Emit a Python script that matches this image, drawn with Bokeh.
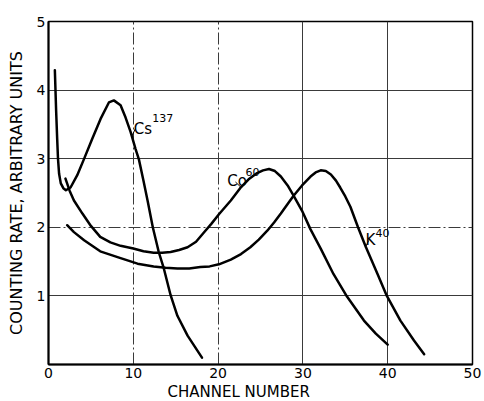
from bokeh.plotting import figure
from bokeh.models import FixedTicker, Grid, Range1d, Title, ColumnDataSource
from bokeh.embed import file_html
from bokeh.resources import INLINE
from bokeh.core.properties import value

# ---- data ----
cs_x = [0.75, 0.9, 1.02, 1.12, 1.25, 1.45, 1.75, 2.05, 2.6, 3.39, 4.17, 5.16, 6.14, 7.12, 7.71,
        8.5, 9.09, 9.68, 10.27, 10.66, 11.2, 11.7, 12.3, 13.0, 13.6, 14.4, 15.2, 16.4, 18.1]
cs_y = [4.29, 3.7, 3.3, 3.0, 2.78, 2.64, 2.57, 2.54, 2.58, 2.76, 2.99, 3.29, 3.58, 3.82, 3.85,
        3.78, 3.60, 3.39, 3.14, 2.99, 2.68, 2.38, 2.0, 1.64, 1.40, 1.01, 0.71, 0.42, 0.10]

co_x = [2.0, 2.5, 3.0, 4.0, 5.0, 6.1, 7.3, 8.5, 10.0, 11.2, 12.4, 13.4, 14.4, 15.4, 16.4, 17.4,
        18.3, 19.2, 20.1, 21.5, 22.6, 23.6, 24.6, 25.3, 26.0, 26.7, 27.4, 28.2, 28.9, 29.9, 30.9,
        32.1, 33.6, 35.2, 37.2, 38.6, 40.0]
co_y = [2.71, 2.53, 2.39, 2.2, 2.02, 1.86, 1.78, 1.73, 1.69, 1.65, 1.63, 1.63, 1.64, 1.67, 1.71, 1.79,
        1.92, 2.05, 2.19, 2.39, 2.57, 2.70, 2.79, 2.83, 2.85, 2.82, 2.74, 2.61, 2.46, 2.24, 1.97,
        1.69, 1.32, 0.99, 0.64, 0.45, 0.29]

k_x = [2.2, 3.0, 4.2, 6.1, 8.5, 10.5, 12.4, 13.8, 15.2, 16.6, 17.9, 19.0, 20.1, 21.5, 22.7, 23.8,
       24.8, 25.8, 26.6, 27.4, 28.2, 28.9, 29.9, 30.9, 31.5, 32.1, 32.7, 33.3, 33.9, 34.4, 35.0,
       35.6, 36.5, 37.4, 38.8, 39.9, 41.5, 43.1, 44.3]
k_y = [2.03, 1.93, 1.81, 1.65, 1.55, 1.47, 1.43, 1.41, 1.40, 1.40, 1.42, 1.43, 1.46, 1.53, 1.61, 1.71,
       1.82, 1.95, 2.07, 2.2, 2.34, 2.46, 2.61, 2.74, 2.80, 2.83, 2.82, 2.77, 2.68, 2.58, 2.45,
       2.30, 2.0, 1.72, 1.32, 1.0, 0.64, 0.35, 0.15]

x_ticks = [0, 10, 20, 30, 40, 50]
y_ticks = [1, 2, 3, 4, 5]

# isotope labels (element + mass number superscript) and their leader ticks
label_text = ["Cs", "Co", "K"]
label_x = [10.06, 21.07, 37.38]
label_y = [3.44, 2.68, 1.82]
sup_text = ["137", "60", "40"]
sup_x = [12.23, 23.23, 38.56]
sup_y = [3.60, 2.80, 1.92]
lead_x0 = [10.26, 22.05, 37.77]
lead_y0 = [3.44, 2.66, 1.81]
lead_x1 = [9.87, 22.64, 37.38]
lead_y1 = [3.34, 2.59, 1.71]

x_title = "CHANNEL NUMBER"
y_title = "COUNTING RATE, ARBITRARY UNITS"

FONT = "DejaVu Sans"

p = figure(width=484, height=401, x_range=Range1d(0, 50), y_range=Range1d(0, 5),
           output_backend="svg", toolbar_location=None,
           min_border_left=48, min_border_right=12, min_border_top=21, min_border_bottom=37)
p.background_fill_color = "white"
p.border_fill_color = "white"
p.outline_line_color = "black"
p.outline_line_width = 1.5

p.xgrid.visible = False
p.ygrid.visible = False

p.xaxis.ticker = FixedTicker(ticks=x_ticks)
p.yaxis.ticker = FixedTicker(ticks=y_ticks)
for ax in (p.xaxis, p.yaxis):
    ax.axis_line_color = "black"
    ax.axis_line_width = 2
    ax.major_tick_in = 0
    ax.major_tick_out = 0
    ax.minor_tick_line_color = None
    ax.major_label_text_font = FONT
    ax.major_label_text_font_size = "14px"
    ax.major_label_text_color = "black"
    ax.major_label_standoff = 3

p.yaxis.axis_label = y_title
p.yaxis.axis_label_text_font = FONT
p.yaxis.axis_label_text_font_size = "16px"
p.yaxis.axis_label_text_font_style = "normal"
p.yaxis.axis_label_text_color = "black"
p.yaxis.axis_label_standoff = 8

# grids: some solid, some dash-dot as in the printed figure
grid_color = "#3a3a3a"
p.add_layout(Grid(dimension=1, ticker=FixedTicker(ticks=[1, 3, 4]),
                  grid_line_color=grid_color, grid_line_width=1))
p.add_layout(Grid(dimension=1, ticker=FixedTicker(ticks=[2]),
                  grid_line_color=grid_color, grid_line_width=1, grid_line_dash="12 3 2 3"))
p.add_layout(Grid(dimension=0, ticker=FixedTicker(ticks=[10, 20]),
                  grid_line_color=grid_color, grid_line_width=1, grid_line_dash="12 3 2 3"))
p.add_layout(Grid(dimension=0, ticker=FixedTicker(ticks=[30, 40]),
                  grid_line_color=grid_color, grid_line_width=1))

for xs, ys in ((cs_x, cs_y), (co_x, co_y), (k_x, k_y)):
    p.line(xs, ys, line_color="black", line_width=2.5, line_join="round", line_cap="round")

p.segment(x0=lead_x0, y0=lead_y0, x1=lead_x1, y1=lead_y1, line_color="black", line_width=1)

lab_src = ColumnDataSource(dict(x=label_x, y=label_y, t=label_text))
p.text(x="x", y="y", text="t", source=lab_src, text_font=value(FONT), text_font_size="15px",
       text_color="black", text_baseline="alphabetic", text_align="left")
sup_src = ColumnDataSource(dict(x=sup_x, y=sup_y, t=sup_text))
p.text(x="x", y="y", text="t", source=sup_src, text_font=value(FONT), text_font_size="11px",
       text_color="black", text_baseline="alphabetic", text_align="left")

p.add_layout(Title(text=x_title, align="left", offset=119, standoff=0, text_font=FONT,
                   text_font_size="15px", text_font_style="normal", text_color="black"),
             "below")

open("out.html", "w").write(file_html(p, INLINE))
